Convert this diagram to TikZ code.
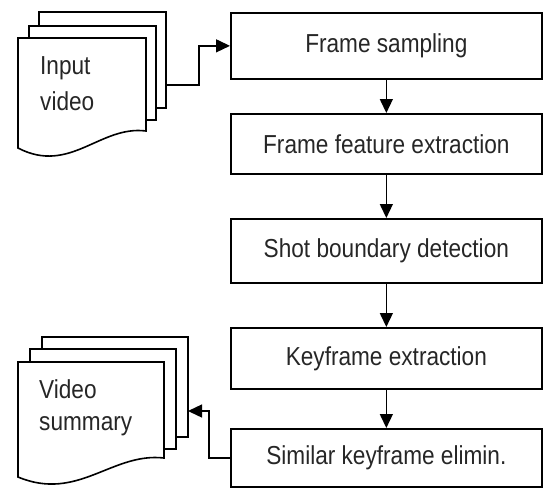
\documentclass[tikz,border=0pt]{standalone}
\usepackage{fontspec}
\setmainfont{Liberation Sans}[FakeStretch=0.87]
\usetikzlibrary{arrows.meta}
\begin{document}
\begin{tikzpicture}[x=1pt,y=-1pt,
  every node/.style={font=\fontsize{26}{30}\selectfont, text=black!85},
  stepbox/.style={draw, line width=1.7pt, minimum width=311pt, anchor=north west, inner sep=0pt},
  sheet/.style={draw, line width=1.6pt, fill=white},
  flow/.style={line width=1.4pt, -{Triangle[length=14pt,width=13pt]}},
  doctext/.style={anchor=base west, inner sep=0pt}]
\useasboundingbox (0,0) rectangle (543,488);
% process boxes
\node[stepbox, minimum height=66pt] (b1) at (230,12) {Frame sampling};
\node[stepbox, minimum height=60pt] (b2) at (230,113) {Frame feature extraction};
\node[stepbox, minimum height=64pt] (b3) at (230,218) {Shot boundary detection};
\node[stepbox, minimum height=61pt] (b4) at (230,327) {Keyframe extraction};
\node[stepbox, minimum height=58pt] (b5) at (230,428) {Similar keyframe elimin.};
% input document stack
\draw[sheet] (39,12) rectangle (166,108);
\draw[sheet] (29,26) rectangle (156,120);
\draw[sheet] (18,38) -- (146,38) -- (146,131) .. controls (100,125) and (70,175) .. (18,148) -- cycle;
\coordinate (inOut) at (166,85);
\node[doctext] (inA) at (40,74) {Input};
\node[doctext] (inB) at (40,110) {video};
% output document stack
\draw[sheet] (42,337) rectangle (188,437);
\draw[sheet] (30,349) rectangle (176,449);
\draw[sheet] (18,362) -- (164,362) -- (164,458) .. controls (112,452) and (78,502) .. (18,477) -- cycle;
\coordinate (outIn) at (188,411);
\node[doctext] (outA) at (39,398) {Video};
\node[doctext] (outB) at (39,430) {summary};
% connectors
\draw[flow] (inOut) -- ++(33,0) |- (b1.west);
\draw[flow] (b1.south) -- (b2.north);
\draw[flow] (b2.south) -- (b3.north);
\draw[flow] (b3.south) -- (b4.north);
\draw[flow] (b4.south) -- (b5.north);
\draw[flow] (b5.west) -- ++(-21,0) |- (outIn);
\end{tikzpicture}
\end{document}
